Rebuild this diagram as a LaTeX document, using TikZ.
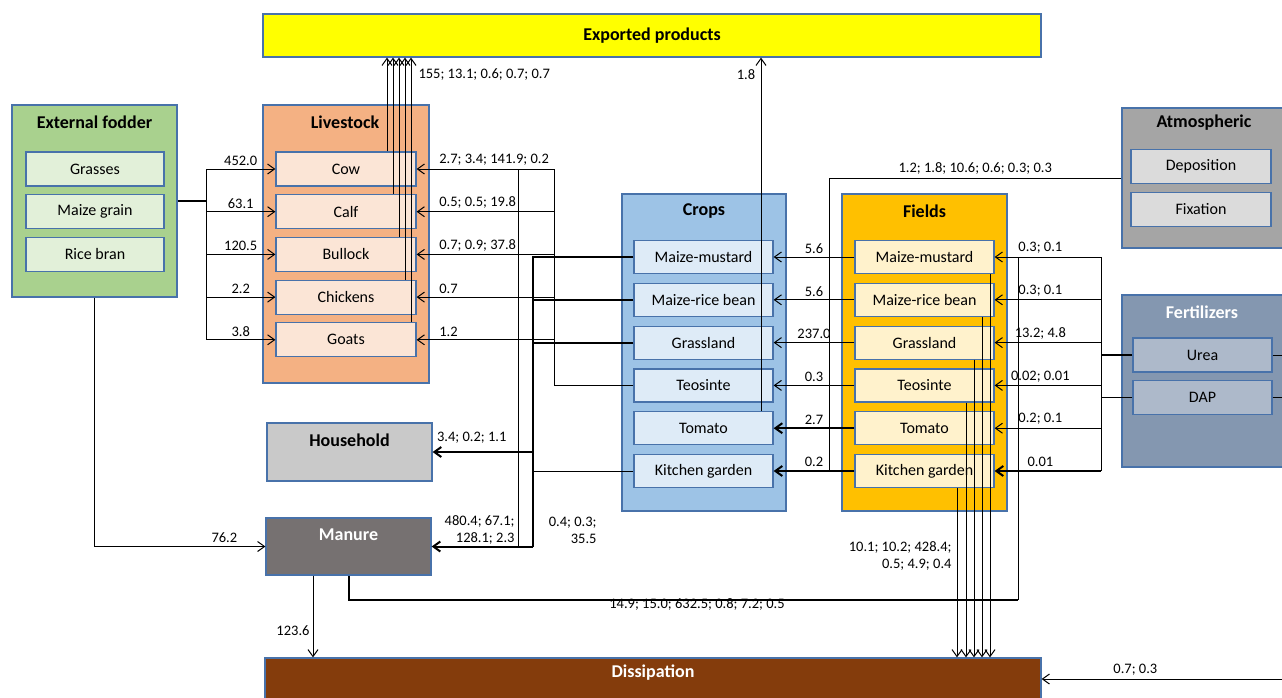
\documentclass[tikz,border=0pt]{standalone}
\usepackage{fontspec}
\setmainfont{Carlito}
\usetikzlibrary{positioning, arrows.meta}
\definecolor{edgeblue}{RGB}{72,114,170}
\definecolor{exportfill}{RGB}{255,255,0}
\definecolor{fodderfill}{RGB}{169,209,142}
\definecolor{fodderitem}{RGB}{226,240,217}
\definecolor{stockfill}{RGB}{244,177,131}
\definecolor{stockitem}{RGB}{251,229,214}
\definecolor{housefill}{RGB}{201,201,201}
\definecolor{manurefill}{RGB}{118,113,113}
\definecolor{dissfill}{RGB}{132,60,12}
\definecolor{cropfill}{RGB}{157,195,230}
\definecolor{cropitem}{RGB}{222,235,247}
\definecolor{fieldfill}{RGB}{255,192,0}
\definecolor{fielditem}{RGB}{255,242,204}
\definecolor{atmfill}{RGB}{165,165,165}
\definecolor{atmitem}{RGB}{219,219,219}
\definecolor{fertfill}{RGB}{132,151,176}
\definecolor{fertitem}{RGB}{173,185,202}

\begin{document}
\begin{tikzpicture}[
    x=1pt, y=-1pt,
    line width=1pt,
    font=\fontsize{16}{19}\selectfont,
    node distance=7.5pt,
    group/.style={rectangle, draw=edgeblue, line width=1.2pt, fill=#1, inner sep=0pt},
    item/.style={rectangle, draw=edgeblue, line width=1.2pt, fill=#1, minimum width=139pt,
        minimum height=34pt, inner sep=0pt},
    head/.style={font=\fontsize{18}{21}\selectfont\bfseries},
    num/.style={font=\fontsize{14.5}{17}\selectfont, inner sep=3pt},
    flow/.style={-{Straight Barb[length=7pt, width=10pt]}},
    heavy/.style={line width=2pt},
]
\useasboundingbox (0,0) rectangle (1282,697);

\node[group=exportfill, head, minimum width=778pt, minimum height=43pt] (exp) at (652,35.5) {Exported products};

\node[group=fodderfill, minimum width=165pt, minimum height=192pt] (fodder) at (94.5,201) {};
\node[head] (foddertitle) at (94.5,122) {External fodder};
\node[item=fodderitem, minimum width=138pt] (grasses) at (95,169) {Grasses};
\node[item=fodderitem, minimum width=138pt, below=of grasses] (mgrain) {Maize grain};
\node[item=fodderitem, minimum width=138pt, below=of mgrain] (rbran) {Rice bran};

\node[group=stockfill, minimum width=166pt, minimum height=278pt] (stock) at (346,244) {};
\node[head] (stocktitle) at (345,122) {Livestock};
\node[item=stockitem, minimum width=140pt] (cow) at (346,169) {Cow};
\node[item=stockitem, minimum width=140pt, below=of cow] (calf) {Calf};
\node[item=stockitem, minimum width=140pt, below=of calf] (bullock) {Bullock};
\node[item=stockitem, minimum width=140pt, below=of bullock] (chickens) {Chickens};
\node[item=stockitem, minimum width=140pt, below=of chickens] (goats) {Goats};

\node[group=housefill, minimum width=165pt, minimum height=58pt] (house) at (349.5,452) {};
\node[head] (housetitle) at (349.5,440) {Household};

\node[group=manurefill, minimum width=165pt, minimum height=57pt] (manure) at (348.5,546.5) {};
\node[head, text=white] (manuretitle) at (348.5,535) {Manure};

\node[group=dissfill, minimum width=776pt, minimum height=52pt] (diss) at (653,684) {};
\node[head, text=white] (disstitle) at (653,673) {Dissipation};

\node[group=cropfill, minimum width=164pt, minimum height=317pt] (crops) at (704,352.5) {};
\node[head] (cropstitle) at (704,211) {Crops};
\node[item=cropitem, minimum height=33pt] (cmm) at (703.5,257) {Maize-mustard};
\node[item=cropitem, minimum height=33pt, below=8.6pt of cmm] (crb) {Maize-rice bean};
\node[item=cropitem, minimum height=33pt, below=8.6pt of crb] (cgr) {Grassland};
\node[item=cropitem, minimum height=33pt, below=8.6pt of cgr] (cte) {Teosinte};
\node[item=cropitem, minimum height=33pt, below=8.6pt of cte] (cto) {Tomato};
\node[item=cropitem, minimum height=33pt, below=8.6pt of cto] (ckg) {Kitchen garden};

\node[group=fieldfill, minimum width=165pt, minimum height=317pt] (fields) at (924.5,352.5) {};
\node[head] (fieldstitle) at (924.5,211) {Fields};
\node[item=fielditem, minimum height=33pt] (fmm) at (924.5,257) {Maize-mustard};
\node[item=fielditem, minimum height=33pt, below=8.6pt of fmm] (frb) {Maize-rice bean};
\node[item=fielditem, minimum height=33pt, below=8.6pt of frb] (fgr) {Grassland};
\node[item=fielditem, minimum height=33pt, below=8.6pt of fgr] (fte) {Teosinte};
\node[item=fielditem, minimum height=33pt, below=8.6pt of fte] (fto) {Tomato};
\node[item=fielditem, minimum height=33pt, below=8.6pt of fto] (fkg) {Kitchen garden};

\node[group=atmfill, minimum width=170pt, minimum height=140pt] (atm) at (1207,178) {};
\node[head] (atmtitle) at (1204,123) {Atmospheric};
\node[item=atmitem, minimum width=140pt] (depo) at (1201,166.5) {Deposition};
\node[item=atmitem, minimum width=140pt, below=of depo] (fix) {Fixation};

\node[group=fertfill, minimum width=170pt, minimum height=172pt] (fert) at (1207,381) {};
\node[head, text=white] (ferttitle) at (1202,312) {Fertilizers};
\node[item=fertitem] (urea) at (1202.5,355) {Urea};
\node[item=fertitem, below=of urea] (dap) {DAP};

\coordinate (fbus) at (206,0);
\coordinate (lbus) at (554,0);
\coordinate (cbus) at (533,0);
\coordinate (mbus) at (518,0);
\coordinate (abus) at (829,0);
\coordinate (nbus) at (1101,0);
\coordinate (redge) at (1282,0);
\coordinate (tomup) at (761,0);
\coordinate (mloop) at (1018,600);
\coordinate (rin) at (1282,679);

% fodder to livestock
\draw[heavy] (fodder.east) -- (fodder.east -| fbus);
\draw (fbus |- cow) -- (fbus |- goats);
\foreach \n/\v in {cow/452.0, calf/63.1, bullock/120.5, chickens/2.2, goats/3.8}
    \draw[flow] (fbus |- \n) -- node[num, above] {\v} (\n.west);
\draw[flow] (fodder.south) |- node[num, above, pos=0.88] {76.2} (manure.west);

% livestock to exports
\foreach \n/\xx in {cow/387, calf/393, bullock/399, chickens/405, goats/411}
    \draw[flow] (\xx,0 |- \n.north) -- (\xx,0 |- exp.south);
\node[num, anchor=west] (stockexp) at (415,75) {155; 13.1; 0.6; 0.7; 0.7};

% crops to livestock, household, manure
\draw (mbus |- cow) -- (mbus |- manure);
\draw (cte.west) -- (lbus |- cte) -- (lbus |- cow);
\foreach \n/\v in {cow/{2.7; 3.4; 141.9; 0.2}, calf/{0.5; 0.5; 19.8}, bullock/{0.7; 0.9; 37.8},
        chickens/0.7, goats/1.2}
    \draw[flow] (lbus |- \n) -- node[num, pos=0.86, anchor=south west] {\v} (\n.east);
\draw[heavy] (cmm.west) -- (cbus |- cmm) -- (cbus |- manure);
\draw[heavy] (crb.west) -- (cbus |- crb);
\draw[heavy] (cgr.west) -- (cbus |- cgr);
\draw (ckg.west) -- (cbus |- ckg);
\draw[flow, heavy] (cbus |- house) -- node[num, above, pos=0.61, yshift=5pt] {3.4; 0.2; 1.1} (house.east);
\draw[flow, heavy] (cbus |- manure) -- (manure.east);
\node[num, anchor=south east, align=right, inner sep=1pt] (stockman) at (516,546)
    {480.4; 67.1;\\128.1; 2.3};
\node[num, anchor=south east, align=right, inner sep=1pt] (cropman) at (598,545)
    {0.4; 0.3;\\35.5};

% crops to exports
\draw[flow] (tomup |- cto.north) -- (tomup |- exp.south);
\node[num] (cropexp) at (746,75) {1.8};

% fields to crops
\foreach \f/\c/\v in {fmm/cmm/5.6, frb/crb/5.6, fgr/cgr/237.0, fte/cte/0.3}
    \draw[flow] (\f.west) -- node[num, above] {\v} (\c.east);
\draw[flow, heavy] (fto.west) -- node[num, above] {2.7} (cto.east);
\draw[flow, heavy] (fkg.west) -- node[num, above] {0.2} (ckg.east);

% atmospheric and fertilizers to fields
\draw (atm.west) -- node[num, above] {1.2; 1.8; 10.6; 0.6; 0.3; 0.3} (abus |- atm) -- (abus |- fkg);
\draw[heavy] (urea.west) -- (nbus |- urea);
\draw (dap.west) -- (nbus |- dap);
\draw (nbus |- fmm) -- (nbus |- fkg);
\foreach \n/\v in {fmm/{0.3; 0.1}, frb/{0.3; 0.1}, fgr/{13.2; 4.8}, fte/{0.02; 0.01}, fto/{0.2; 0.1}}
    \draw[flow] (nbus |- \n) -- node[num, above, pos=0.57] {\v} (\n.east);
\draw[flow, heavy] (nbus |- fkg) -- node[num, above, pos=0.57] {0.01} (fkg.east);
\draw (urea.east) -- (redge |- urea);
\draw (dap.east) -- (redge |- dap);

% manure loop and dissipation
\draw[heavy] (manure.south) |- (mloop);
\draw (mloop) -- (mloop |- fmm);
\node[num] (manfield) at (697,604) {14.9; 15.0; 632.5; 0.8; 7.2; 0.5};
\draw[flow] (313,0 |- manure.south) -- node[num, left, pos=0.67] {123.6} (313,0 |- diss.north);
\foreach \n/\xx in {fkg/957, fte/966, fgr/974, frb/982, fmm/990}
    \draw[flow] (\xx,0 |- \n.south) -- (\xx,0 |- diss.north);
\node[num, anchor=east, align=right, inner sep=1pt] (fielddiss) at (953,556)
    {10.1; 10.2; 428.4;\\0.5; 4.9; 0.4};
\draw[flow] (rin) -- node[num, above, pos=0.61] {0.7; 0.3} (rin -| diss.east);

\end{tikzpicture}
\end{document}
